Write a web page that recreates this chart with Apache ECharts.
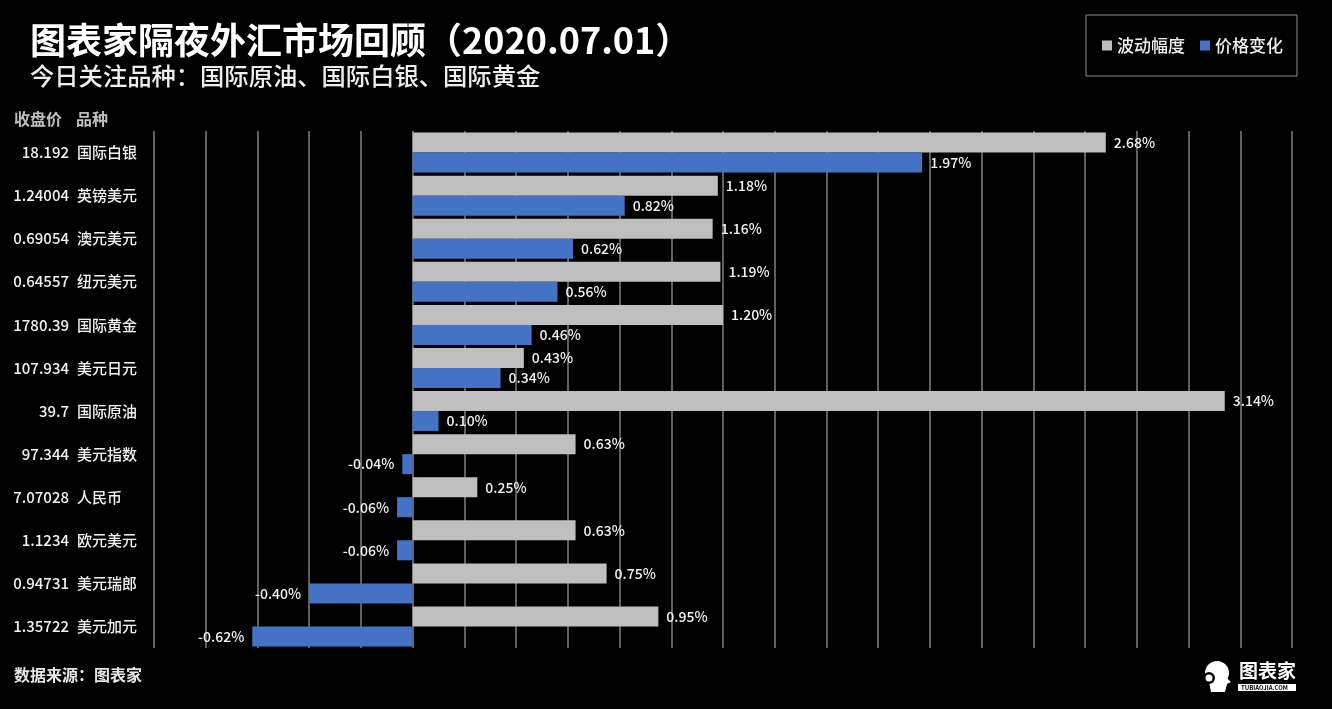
<!DOCTYPE html>
<html>
<head>
<meta charset="utf-8">
<script src="https://cdn.jsdelivr.net/npm/echarts@6/dist/echarts.min.js"></script>
<style>
  html, body { margin: 0; padding: 0; background: #000; }
  #main { width: 1332px; height: 709px; }
</style>
</head>
<body>
<div id="main"></div>
<script>
// 品种
const names = ['国际白银', '英镑美元', '澳元美元', '纽元美元', '国际黄金', '美元日元', '国际原油', '美元指数', '人民币', '欧元美元', '美元瑞郎', '美元加元'];
// 收盘价
const closePrices = ['18.192', '1.24004', '0.69054', '0.64557', '1780.39', '107.934', '39.7', '97.344', '7.07028', '1.1234', '0.94731', '1.35722'];
// 波动幅度 (%)
const volatility = [2.68, 1.18, 1.16, 1.19, 1.20, 0.43, 3.14, 0.63, 0.25, 0.63, 0.75, 0.95];
// 价格变化 (%)
const priceChange = [1.97, 0.82, 0.62, 0.56, 0.46, 0.34, 0.10, -0.04, -0.06, -0.06, -0.40, -0.62];

const FONT = '"Noto Sans CJK SC", "Noto Sans", sans-serif';

let chart = echarts.init(document.getElementById('main'));
let option = {
  backgroundColor: '#000',
  textStyle: { fontFamily: FONT },
  animation: false,
  grid: {
    left: 154,
    right: 40,
    top: 131,
    bottom: 61
  },
  legend: {
    left: 1086,
    top: 15,
    padding: [22, 14, 22, 16],
    borderColor: '#8c8c8c',
    borderWidth: 1,
    itemWidth: 10,
    itemHeight: 10,
    itemGap: 15,
    icon: 'rect',
    textStyle: { color: '#f0f0f0', fontSize: 17, fontWeight: 500, fontFamily: FONT },
    data: ['波动幅度', '价格变化']
  },
  xAxis: {
    type: 'value',
    min: -1,
    max: 3.4,
    interval: 0.2,
    axisLabel: { show: false },
    axisTick: { show: false },
    axisLine: { show: false },
    splitLine: {
      show: true,
      lineStyle: { color: '#7f7f7f', width: 1.5 }
    }
  },
  yAxis: [
    // 品种（左对齐）
    {
      type: 'category',
      inverse: true,
      data: names,
      axisLine: { show: false, onZero: false },
      axisTick: { show: false },
      axisLabel: {
        align: 'left',
        margin: 77,
        color: '#f2f2f2',
        fontSize: 15,
        fontWeight: 500,
        fontFamily: FONT
      }
    },
    // 收盘价（右对齐）
    {
      type: 'category',
      position: 'left',
      inverse: true,
      data: closePrices,
      axisLine: { show: false, onZero: false },
      axisTick: { show: false },
      splitLine: { show: false },
      axisLabel: {
        align: 'right',
        margin: 85,
        color: '#f2f2f2',
        fontSize: 15,
        fontWeight: 500,
        fontFamily: FONT
      }
    }
  ],
  series: [
    {
      name: '波动幅度',
      type: 'bar',
      data: volatility,
      barWidth: 20,
      barGap: '0%',
      itemStyle: { color: '#bfbfbf' },
      label: {
        show: true,
        position: 'right',
        distance: 8,
        color: '#f2f2f2',
        fontSize: 14,
        fontWeight: 500,
        fontFamily: FONT,
        formatter: (p) => p.value.toFixed(2) + '%'
      }
    },
    {
      name: '价格变化',
      type: 'bar',
      barWidth: 20,
      // 负值的标签放在左边
      data: priceChange.map(v => ({
        value: v,
        label: { position: v < 0 ? 'left' : 'right' }
      })),
      itemStyle: { color: '#4472c4' },
      label: {
        show: true,
        distance: 8,
        color: '#f2f2f2',
        fontSize: 14,
        fontWeight: 500,
        fontFamily: FONT,
        formatter: (p) => p.value.toFixed(2) + '%'
      }
    }
  ],
  graphic: [
    {
      type: 'text', left: 30, top: 22,
      style: { text: '图表家隔夜外汇市场回顾（2020.07.01）', fill: '#ffffff', font: 'bold 36px ' + FONT }
    },
    {
      type: 'text', left: 30, top: 64,
      style: { text: '今日关注品种：国际原油、国际白银、国际黄金', fill: '#eeeeee', font: '500 24.3px ' + FONT }
    },
    {
      type: 'text', left: 14, top: 111,
      style: { text: '收盘价', fill: '#bfbfbf', font: 'bold 16px ' + FONT }
    },
    {
      type: 'text', left: 76, top: 111,
      style: { text: '品种', fill: '#bfbfbf', font: 'bold 16px ' + FONT }
    },
    {
      type: 'text', left: 14, top: 667,
      style: { text: '数据来源：图表家', fill: '#e6e6e6', font: 'bold 16px ' + FONT }
    },
    // 右下角 logo
    {
      type: 'group', left: 1203, top: 661,
      children: [
        { type: 'circle', shape: { cx: 16, cy: 13, r: 12 }, style: { fill: '#ffffff' } },
        { type: 'polygon', shape: { points: [[24, 16], [30, 22], [26, 24], [24, 32], [10, 32], [8, 22]] }, style: { fill: '#ffffff' } },
        { type: 'circle', shape: { cx: 8, cy: 18, r: 6 }, style: { fill: '#000000' } },
        { type: 'circle', shape: { cx: 8, cy: 18, r: 3.5 }, style: { fill: '#ffffff' } },
        { type: 'text', x: 38, y: 1, style: { text: '图表家', fill: '#ffffff', font: 'bold 19px ' + FONT } },
        { type: 'rect', shape: { x: 37, y: 24, width: 58, height: 7 }, style: { fill: '#ffffff' } },
        { type: 'text', x: 40, y: 24.5, style: { text: 'TUBIAOJIA.COM', fill: '#000000', font: 'bold 6px ' + FONT } }
      ]
    }
  ]
};
chart.setOption(option);
</script>
</body>
</html>
